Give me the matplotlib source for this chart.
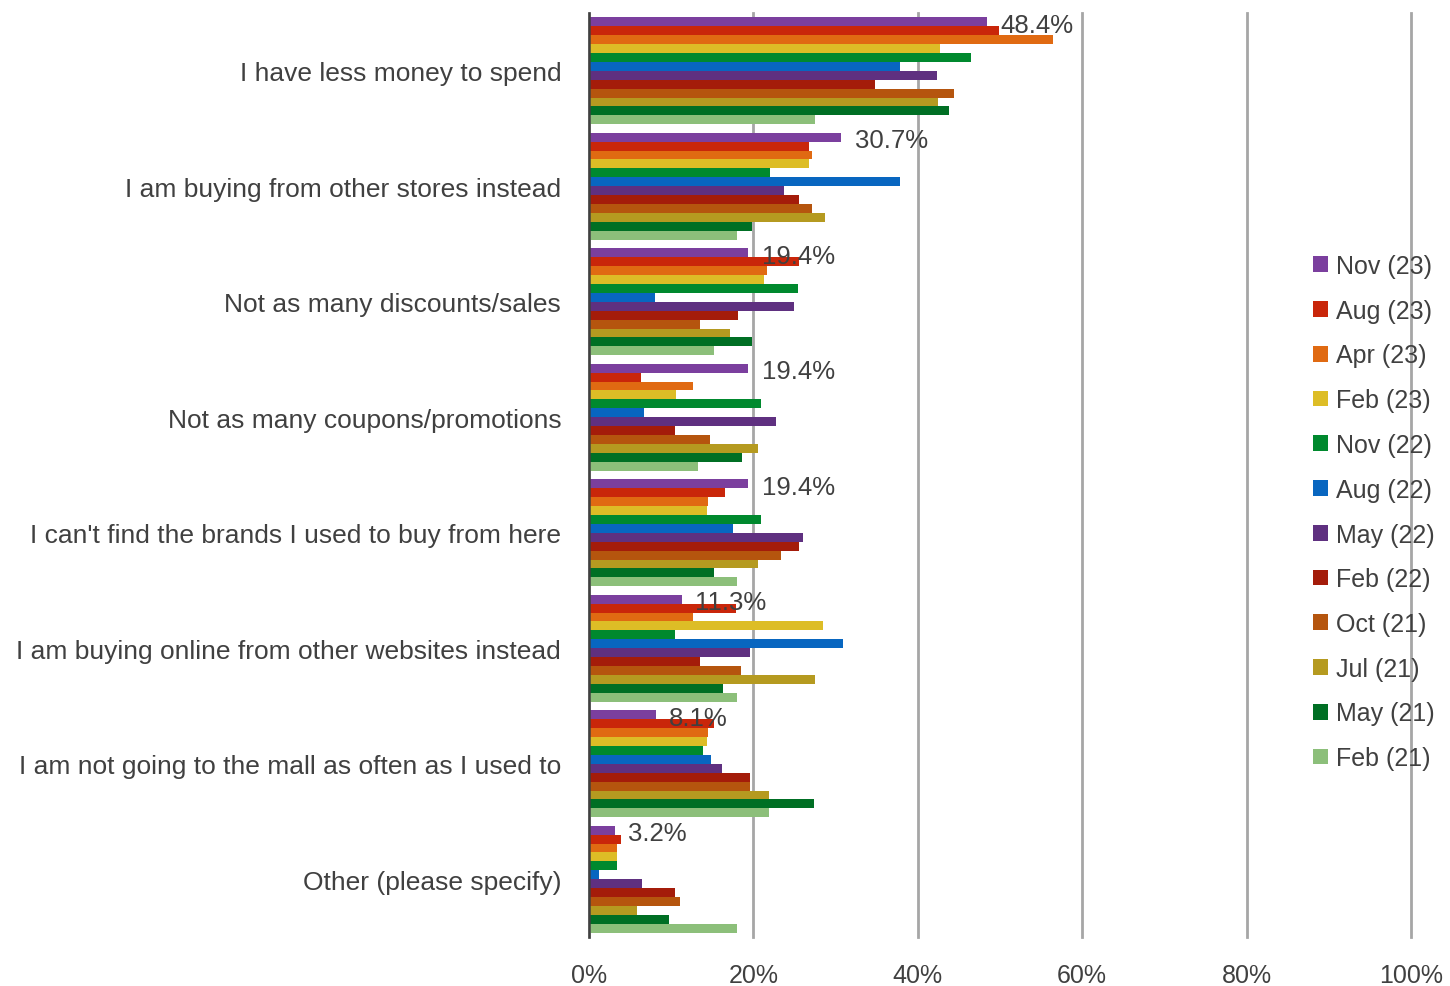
import matplotlib
matplotlib.use("Agg")
import matplotlib.pyplot as plt
import numpy as np

plt.rcParams['font.family'] = ['Liberation Sans', 'DejaVu Sans']

categories = [
    "I have less money to spend",
    "I am buying from other stores instead",
    "Not as many discounts/sales",
    "Not as many coupons/promotions",
    "I can't find the brands I used to buy from here",
    "I am buying online from other websites instead",
    "I am not going to the mall as often as I used to",
    "Other (please specify)",
]

series_names = ["Nov (23)", "Aug (23)", "Apr (23)", "Feb (23)", "Nov (22)", "Aug (22)",
                "May (22)", "Feb (22)", "Oct (21)", "Jul (21)", "May (21)", "Feb (21)"]

nov23 = [48.4, 30.7, 19.4, 19.4, 19.4, 11.3, 8.1, 3.2]
aug23 = [49.9, 26.8, 25.6, 6.3, 16.5, 17.9, 15.2, 3.9]
apr23 = [56.4, 27.1, 21.7, 12.6, 14.5, 12.6, 14.5, 3.4]
feb23 = [42.7, 26.8, 21.3, 10.6, 14.3, 28.5, 14.3, 3.4]
nov22 = [46.5, 22.0, 25.4, 20.9, 20.9, 10.5, 13.9, 3.4]
aug22 = [37.8, 37.8, 8.0, 6.7, 17.5, 30.9, 14.8, 1.2]
may22 = [42.3, 23.7, 24.9, 22.8, 26.0, 19.6, 16.2, 6.5]
feb22 = [34.8, 25.6, 18.1, 10.5, 25.6, 13.5, 19.6, 10.5]
oct21 = [44.4, 27.1, 13.5, 14.7, 23.4, 18.5, 19.6, 11.1]
jul21 = [42.5, 28.7, 17.1, 20.5, 20.5, 27.5, 21.9, 5.8]
may21 = [43.8, 19.8, 19.8, 18.6, 15.2, 16.3, 27.4, 9.7]
feb21 = [27.5, 18.0, 15.2, 13.3, 18.0, 18.0, 21.9, 18.0]

series_values = [nov23, aug23, apr23, feb23, nov22, aug22,
                 may22, feb22, oct21, jul21, may21, feb21]

colors = ["#7B3F9E", "#C9260A", "#E06A12", "#DDBD26", "#00892E", "#0866C0",
          "#5F3080", "#A41C0A", "#B5550E", "#B59A20", "#006F24", "#8CBF7A"]

text_color = "#404040"

fig = plt.figure(figsize=(14.5, 9.87), dpi=100)
ax = fig.add_axes([589 / 1450, 1 - 938 / 987, (1411 - 589) / 1450, (938 - 14) / 987])

n = len(series_names)
group_fill = 0.927
bar_h = group_fill / n
y = np.arange(len(categories))

for i, (name, vals, col) in enumerate(zip(series_names, series_values, colors)):
    offs = -group_fill / 2 + bar_h * (i + 0.5)
    ax.barh(y + offs, vals, height=bar_h, color=col, label=name,
            edgecolor="none", zorder=3)
    if i == 0:
        for yy, v in zip(y + offs, vals):
            ax.text(v + 1.6, yy + 0.025, f"{v:.1f}%", va="center", ha="left",
                    fontsize=18.5, color=text_color, zorder=5)

ax.set_ylim(len(categories) - 0.5, -0.5)
ax.set_xlim(0, 100)
ax.set_xticks(np.arange(0, 101, 20))
ax.set_xticklabels([f"{t}%" for t in range(0, 101, 20)])
ax.set_yticks(y)
ax.set_yticklabels(categories)

ax.xaxis.grid(True, color="#A6A6A6", linewidth=2, zorder=0)
for gl in ax.get_xgridlines():
    gl.set_clip_on(False)
ax.set_axisbelow(True)
for s in ["top", "right", "bottom"]:
    ax.spines[s].set_visible(False)
ax.spines["left"].set_color("#404040")
ax.spines["left"].set_linewidth(1.8)
ax.spines["left"].set_zorder(6)

ax.tick_params(axis="both", length=0, labelcolor=text_color)
ax.tick_params(axis="y", pad=20, labelsize=19)
ax.tick_params(axis="x", pad=19, labelsize=18)

leg = ax.legend(loc="upper left", bbox_to_anchor=((1303 - 589) / (1411 - 589), 1 - (245 - 14) / (938 - 14)),
                frameon=False, fontsize=18, handlelength=0.6, handleheight=0.6,
                handletextpad=0.3, labelspacing=0.83, borderaxespad=0)
for t in leg.get_texts():
    t.set_color(text_color)

fig.savefig("out.png", dpi=100, facecolor="white")
